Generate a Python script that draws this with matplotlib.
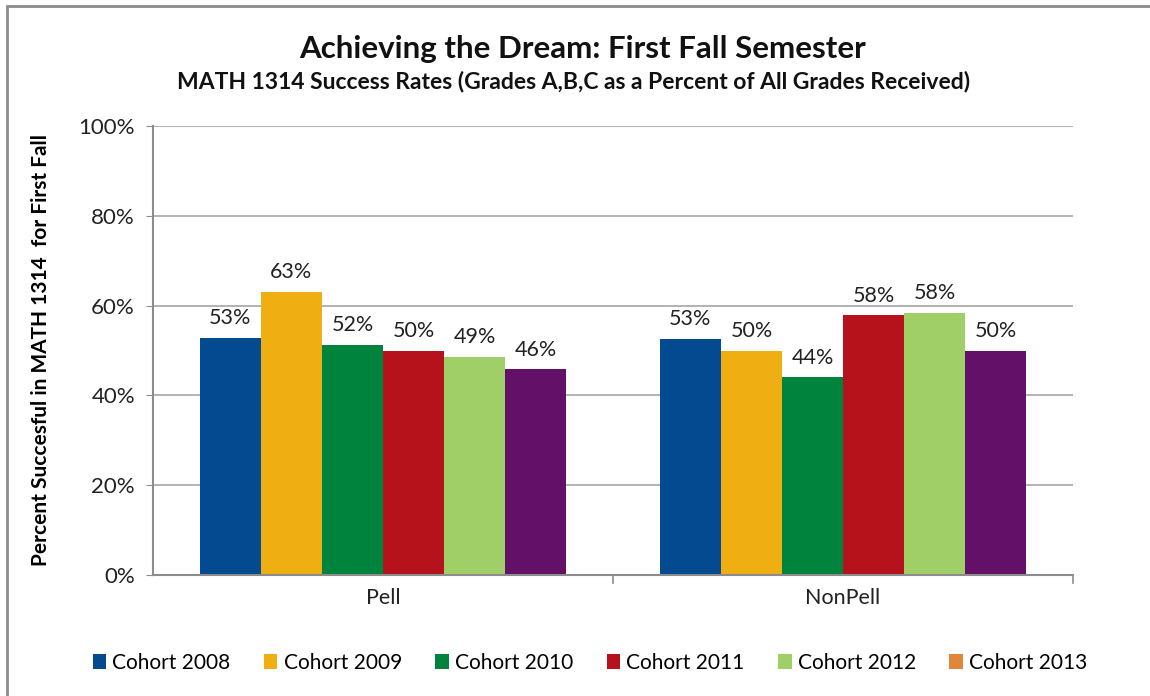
import matplotlib
matplotlib.use("Agg")
import matplotlib.pyplot as plt
from matplotlib.patches import Patch, Rectangle
import numpy as np

categories = ["Pell", "NonPell"]
cohorts = ["Cohort 2008", "Cohort 2009", "Cohort 2010", "Cohort 2011", "Cohort 2012", "Cohort 2013"]
# values per cohort: [Pell, NonPell]
values = [
    [52.8, 52.6],
    [63.0, 49.9],
    [51.3, 44.0],
    [49.9, 57.8],
    [48.6, 58.4],
    [45.8, 49.9],
]
labels = [
    ["53%", "53%"],
    ["63%", "50%"],
    ["52%", "44%"],
    ["50%", "58%"],
    ["49%", "58%"],
    ["46%", "50%"],
]
bar_colors = ["#034A90", "#EFAF13", "#00843D", "#B5121B", "#A1CF67", "#621068"]
legend_colors = ["#034A90", "#EFAF13", "#00843D", "#B5121B", "#A1CF67", "#E0873C"]
yticks = [0, 20, 40, 60, 80, 100]
ytick_labels = ["0%", "20%", "40%", "60%", "80%", "100%"]

plt.rcParams['font.family'] = ['Lato', 'DejaVu Sans']

fig = plt.figure(figsize=(11.5, 6.96), dpi=100)
fig.patch.set_facecolor("white")
# outer chart border (left & top visible)
fig.add_artist(Rectangle((7/1150, -0.1), 1.2, 1 - 6/696 + 0.1, transform=fig.transFigure,
                         fill=False, edgecolor="#8c8c8c", lw=2))

ax = fig.add_axes([153/1150, 121/696, 920/1150, 449/696])
x = np.arange(len(categories))
n = len(cohorts)
group_w = 0.796
bw = group_w / n
for i in range(n):
    xs = x - group_w/2 + bw*(i + 0.5)
    bars = ax.bar(xs, values[i], width=bw, color=bar_colors[i], zorder=3)
    for b, lab in zip(bars, labels[i]):
        ax.annotate(lab, (b.get_x() + b.get_width()/2, b.get_height()),
                    xytext=(0, 7), textcoords="offset points",
                    ha="center", va="bottom", fontsize=15.5, color="#222222")

ax.set_xlim(-0.5, 1.5)
ax.set_ylim(0, 100)
ax.set_yticks(yticks)
ax.set_yticklabels(ytick_labels, fontsize=16, color="#222222")
ax.set_xticks(x)
ax.set_xticklabels(categories, fontsize=15.5, color="#222222")
ax.tick_params(axis="x", length=0, pad=9)
ax.tick_params(axis="y", length=5, color="#8c8c8c", direction="out", pad=8)
# category separator ticks
for xv in [0.5, 1.5]:
    ax.plot([xv, xv], [0, -1.8], color="#8c8c8c", lw=1.2, clip_on=False, zorder=4)
ax.grid(axis="y", color="#a6a6a6", lw=1.2, zorder=0)
for s in ["top", "right"]:
    ax.spines[s].set_visible(False)
for s in ["left", "bottom"]:
    ax.spines[s].set_color("#8c8c8c")
    ax.spines[s].set_linewidth(1.5)
ax.spines["bottom"].set_zorder(5)

ax.set_ylabel("Percent Succesful in MATH 1314  for First Fall", fontsize=15,
              fontweight="bold", labelpad=20)

fig.text(583/1150, 1 - 49/696, "Achieving the Dream: First Fall Semester", ha="center", va="center",
         fontsize=22.5, fontweight="bold", color="#111111")
fig.text(574/1150, 1 - 82/696, "MATH 1314 Success Rates (Grades A,B,C as a Percent of All Grades Received)",
         ha="center", va="center", fontsize=16.5, fontweight="bold", color="#111111")

handles = [Patch(facecolor=c, edgecolor="none") for c in legend_colors]
fig.legend(handles, cohorts, loc="center", bbox_to_anchor=(590/1150, 1 - 663/696), ncol=6,
           frameon=False, fontsize=15, handlelength=0.65, handleheight=0.7,
           handletextpad=0.3, columnspacing=1.6)

fig.savefig("out.png", dpi=100)
